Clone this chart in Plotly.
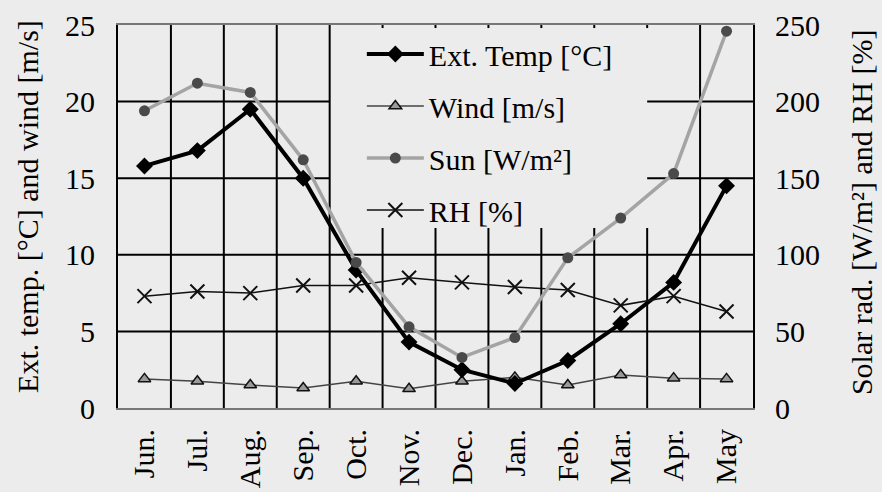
import plotly.graph_objects as go

months = ["Jun.", "Jul.", "Aug.", "Sep.", "Oct.", "Nov.", "Dec.", "Jan.", "Feb.", "Mar.", "Apr.", "May"]
ext_temp = [15.8, 16.8, 19.5, 15.0, 9.0, 4.3, 2.5, 1.6, 3.1, 5.5, 8.2, 14.5]
wind = [1.9, 1.75, 1.5, 1.3, 1.75, 1.25, 1.75, 2.0, 1.5, 2.15, 1.95, 1.9]
sun = [194, 212, 206, 162, 95, 53, 33, 46, 98, 124, 153, 246]
rh = [73, 76, 75, 80, 80, 85, 82, 79, 77, 67, 73, 63]

left_ticks = [0, 5, 10, 15, 20, 25]
right_ticks = [0, 50, 100, 150, 200, 250]

left_title = "Ext. temp. [°C] and wind [m/s]"
right_title = "Solar rad. [W/m²] and RH [%]"

BG = "#ececec"
FONT = "Liberation Serif"
FS = 30
GRID = dict(color="#000000", width=2)

fig = go.Figure()

fig.add_trace(go.Scatter(
    x=months, y=wind, name="Wind [m/s]", mode="lines+markers",
    line=dict(color="#444444", width=1.5),
    marker=dict(symbol="triangle-up", size=11, color="#9a9a9a",
                line=dict(color="#111111", width=1.5)),
    legendrank=2, legendgroup="b",
))
fig.add_trace(go.Scatter(
    x=months, y=rh, name="RH [%]", mode="lines+markers", yaxis="y2",
    line=dict(color="#111111", width=1.5),
    marker=dict(symbol="x-thin-open", size=14, color="#111111",
                line=dict(color="#111111", width=2)),
    legendrank=4, legendgroup="d",
))
fig.add_trace(go.Scatter(
    x=months, y=sun, name="Sun [W/m²]", mode="lines+markers", yaxis="y2",
    line=dict(color="#a4a4a4", width=3.5),
    marker=dict(symbol="circle", size=11, color="#4a4a4a"),
    legendrank=3, legendgroup="c",
))
fig.add_trace(go.Scatter(
    x=months, y=ext_temp, name="Ext. Temp [°C]", mode="lines+markers",
    line=dict(color="#000000", width=4),
    marker=dict(symbol="diamond", size=13, color="#000000"),
    legendrank=1, legendgroup="a",
))

# Grid drawn as shapes under the series, leaving a clear panel for the legend.
n = len(months)
x_lo, x_hi = -0.5, n - 0.5
leg_x0, leg_x1 = 3.5, 9.5          # category boundaries framing the legend
leg_y0, leg_y1 = 11.75, 24.8       # left-axis units
y_top = left_ticks[-1]

for v in left_ticks[1:-1]:
    if leg_y0 < v < leg_y1:
        fig.add_shape(type="line", xref="x", yref="y", x0=x_lo, x1=leg_x0,
                      y0=v, y1=v, line=GRID, layer="below")
        fig.add_shape(type="line", xref="x", yref="y", x0=leg_x1, x1=x_hi,
                      y0=v, y1=v, line=GRID, layer="below")
    else:
        fig.add_shape(type="line", xref="x", yref="y", x0=x_lo, x1=x_hi,
                      y0=v, y1=v, line=GRID, layer="below")

for i in range(1, n):
    b = i - 0.5
    if leg_x0 < b <= leg_x1:
        fig.add_shape(type="line", xref="x", yref="y", x0=b, x1=b,
                      y0=0, y1=leg_y0, line=GRID, layer="below")
        fig.add_shape(type="line", xref="x", yref="y", x0=b, x1=b,
                      y0=leg_y1, y1=y_top, line=GRID, layer="below")
    else:
        fig.add_shape(type="line", xref="x", yref="y", x0=b, x1=b,
                      y0=0, y1=y_top, line=GRID, layer="below")

fig.update_layout(
    width=882, height=492,
    margin=dict(l=118, r=129, t=25, b=84),
    paper_bgcolor=BG, plot_bgcolor=BG,
    font=dict(family=FONT, size=FS, color="#000000"),
    showlegend=True,
    legend=dict(
        x=0.384, y=0.992, xanchor="left", yanchor="top",
        bgcolor="rgba(0,0,0,0)", borderwidth=0,
        font=dict(family=FONT, size=FS, color="#000000"),
        tracegroupgap=10, itemwidth=57,
    ),
    xaxis=dict(
        type="category", showgrid=False,
        ticks="", tickangle=-90, ticklabelstandoff=7,
        tickfont=dict(family=FONT, size=FS),
        showline=True, linecolor="#777777", linewidth=2, mirror=True,
        range=[x_lo, x_hi], automargin=False,
    ),
    yaxis=dict(
        range=[0, 25], tickvals=left_ticks, showgrid=False,
        zeroline=False,
        showline=True, linecolor="#000000", linewidth=2,
        # invisible outside ticks push the labels away from the frame
        ticks="outside", ticklen=15, tickcolor=BG, tickwidth=1,
        automargin=False,
        tickfont=dict(family=FONT, size=FS),
    ),
    yaxis2=dict(
        range=[0, 250], tickvals=right_ticks, overlaying="y", side="right",
        showgrid=False, zeroline=False,
        showline=True, linecolor="#000000", linewidth=2,
        ticks="", ticklabelstandoff=14, automargin=False,
        tickfont=dict(family=FONT, size=FS),
    ),
    annotations=[
        dict(text=left_title, xref="paper", yref="paper",
             x=-0.1417, y=0.525, xanchor="center", yanchor="middle",
             textangle=-90, showarrow=False,
             font=dict(family=FONT, size=FS, color="#000000")),
        dict(text=right_title, xref="paper", yref="paper",
             x=1.172, y=0.512, xanchor="center", yanchor="middle",
             textangle=-90, showarrow=False,
             font=dict(family=FONT, size=FS, color="#000000")),
    ],
)

fig.write_html("out.html")
